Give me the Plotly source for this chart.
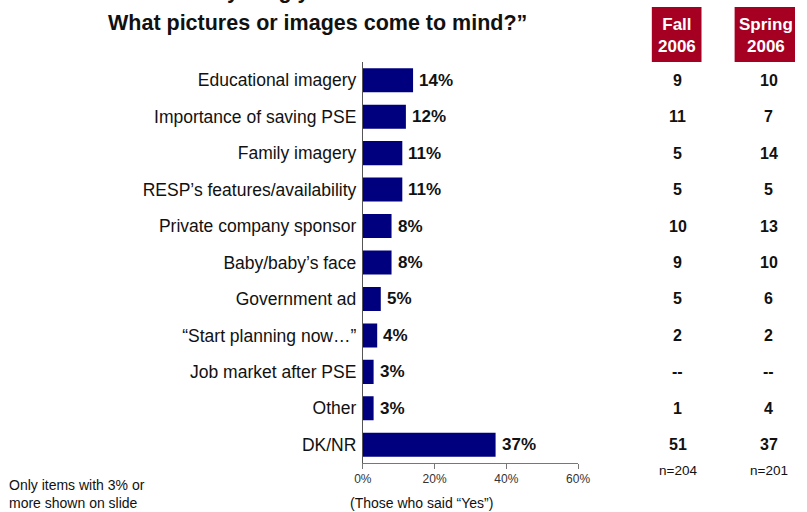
import plotly.graph_objects as go

# Survey data
categories = [
    "Educational imagery",
    "Importance of saving PSE",
    "Family imagery",
    "RESP\u2019s features/availability",
    "Private company sponsor",
    "Baby/baby\u2019s face",
    "Government ad",
    "\u201cStart planning now\u2026\u201d",
    "Job market after PSE",
    "Other",
    "DK/NR",
]
current_pct = [14, 12, 11, 11, 8, 8, 5, 4, 3, 3, 37]
fall_2006 = ["9", "11", "5", "5", "10", "9", "5", "2", "--", "1", "51"]
spring_2006 = ["10", "7", "14", "5", "13", "10", "6", "2", "--", "4", "37"]
x_ticks = [0, 20, 40, 60]
x_tick_labels = ["0%", "20%", "40%", "60%"]

W, H = 807, 512
FONT = "Liberation Sans, Arial, sans-serif"
RED = "#A50021"
NAVY = "#00007F"


def px(x):
    return x / W


def py(y):
    return 1 - y / H


fig = go.Figure()
fig.add_trace(go.Bar(
    x=current_pct,
    y=categories,
    orientation="h",
    marker=dict(color=NAVY, line=dict(width=0)),
    hoverinfo="skip",
))

annotations = []
# value labels beside each bar
for cat, v in zip(categories, current_pct):
    annotations.append(dict(
        x=v, y=cat, xref="x", yref="y", text=f"<b>{v}%</b>",
        showarrow=False, xanchor="left", yanchor="middle", xshift=4,
        font=dict(family=FONT, size=17, color="#111"),
    ))

# earlier-wave columns
col_fall, col_spring = 686.5, 780
for cat, f, s in zip(categories, fall_2006, spring_2006):
    for xc, t in ((col_fall, f), (col_spring, s)):
        annotations.append(dict(
            x=px(xc), y=cat, xref="paper", yref="y", text=f"<b>{t}</b>",
            showarrow=False, xanchor="center", yanchor="middle",
            font=dict(family=FONT, size=16, color="#111"),
        ))

# column headers
shapes = [
    dict(type="rect", xref="paper", yref="paper", x0=px(660), x1=px(711),
         y0=py(62), y1=py(7), fillcolor=RED, line=dict(width=0), layer="below"),
    dict(type="rect", xref="paper", yref="paper", x0=px(745), x1=1,
         y0=py(62), y1=py(7), fillcolor=RED, line=dict(width=0), layer="below"),
]
for xc, label in ((685.5, "Fall"), (777, "Spring")):
    annotations.append(dict(
        x=px(xc), y=py(35), xref="paper", yref="paper",
        text=f"<b>{label}<br>2006</b>", showarrow=False,
        xanchor="center", yanchor="middle",
        font=dict(family=FONT, size=17, color="white"),
    ))

# sample sizes
for xc, t in ((col_fall, "n=204"), (col_spring, "n=201")):
    annotations.append(dict(
        x=px(xc), y=py(470), xref="paper", yref="paper", text=t,
        showarrow=False, xanchor="center", yanchor="middle",
        font=dict(family=FONT, size=13.5, color="#111"),
    ))

# question title (first line runs off the top edge)
annotations.append(dict(
    x=px(335), y=py(5), xref="paper", yref="paper",
    text="<b>\u201cPlease tell me anything you can remember about the ad.</b>",
    showarrow=False, xanchor="center", yanchor="bottom",
    font=dict(family=FONT, size=21.5, color="#111"),
))
annotations.append(dict(
    x=px(317), y=py(23), xref="paper", yref="paper",
    text="<b>What pictures or images come to mind?\u201d</b>",
    showarrow=False, xanchor="center", yanchor="middle",
    font=dict(family=FONT, size=21.5, color="#111"),
))

# axis caption and footnote
annotations.append(dict(
    x=px(424), y=py(503), xref="paper", yref="paper",
    text="(Those who said \u201cYes\u201d)", showarrow=False,
    xanchor="center", yanchor="middle",
    font=dict(family=FONT, size=14, color="#111"),
))
annotations.append(dict(
    x=px(-2), y=py(494), xref="paper", yref="paper",
    text="Only items with 3% or<br>more shown on slide", showarrow=False,
    xanchor="left", yanchor="middle", align="left",
    font=dict(family=FONT, size=14, color="#111"),
))

fig.update_layout(
    width=W, height=H,
    margin=dict(l=0, r=0, t=0, b=0),
    paper_bgcolor="white", plot_bgcolor="white",
    showlegend=False,
    bargap=0.34,
    annotations=annotations,
    shapes=shapes,
    xaxis=dict(
        domain=[px(363.3), px(584.3)], range=[0, 60],
        tickvals=x_ticks, ticktext=x_tick_labels,
        showgrid=False, zeroline=False,
        showline=True, linecolor="#777", linewidth=1,
        ticks="outside", ticklen=5, tickcolor="#777",
        tickfont=dict(family=FONT, size=12, color="#333"),
        fixedrange=True,
    ),
    yaxis=dict(
        domain=[py(463), py(62)],
        autorange="reversed",
        showgrid=False, zeroline=False,
        showline=True, linecolor="#555", linewidth=1,
        ticks="", ticklabelstandoff=2,
        tickfont=dict(family=FONT, size=17.5, color="#111"),
        fixedrange=True,
    ),
)

fig.write_html("out.html")
